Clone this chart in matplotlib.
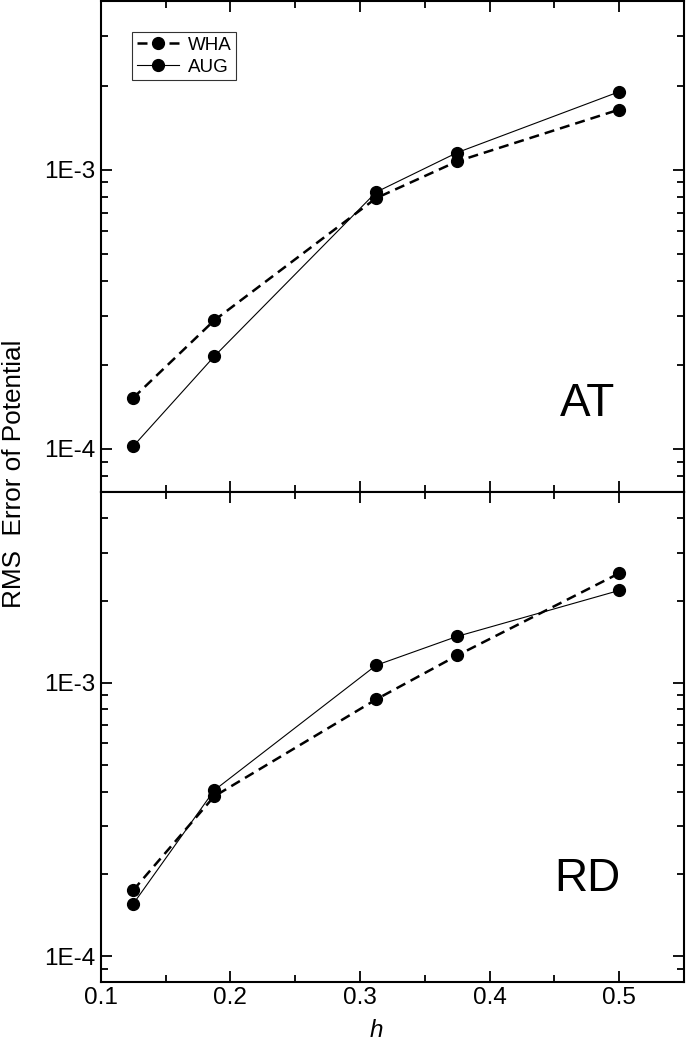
import numpy as np
import matplotlib
matplotlib.use("Agg")
import matplotlib.pyplot as plt
from matplotlib.ticker import LogLocator, FixedLocator, MultipleLocator, FuncFormatter, NullFormatter

plt.rcParams["font.family"] = ["Liberation Sans", "DejaVu Sans"]

# grid spacing h
h = [0.125, 0.1875, 0.3125, 0.375, 0.5]

# AT panel
at_wha = [1.52e-4, 2.88e-4, 7.9e-4, 1.07e-3, 1.64e-3]
at_aug = [1.02e-4, 2.14e-4, 8.3e-4, 1.15e-3, 1.90e-3]

# RD panel
rd_wha = [1.74e-4, 3.84e-4, 8.7e-4, 1.26e-3, 2.52e-3]
rd_aug = [1.55e-4, 4.04e-4, 1.16e-3, 1.48e-3, 2.18e-3]

panels = [("AT", at_wha, at_aug, (7e-5, 4e-3)),
          ("RD", rd_wha, rd_aug, (8e-5, 5e-3))]


def sci_label(v, pos):
    e = int(round(np.log10(v)))
    return f"1E{e}"


fig, axes = plt.subplots(2, 1, figsize=(6.88, 10.5), dpi=100, sharex=True)
fig.subplots_adjust(left=0.1464, right=0.9942, top=0.9986, bottom=0.0643, hspace=0)

for ax, (name, wha, aug, ylim) in zip(axes, panels):
    ax.plot(h, wha, color="black", lw=1.8, linestyle=(0, (4, 2.4)),
            marker="o", markersize=8.5, label="WHA")
    ax.plot(h, aug, color="black", lw=0.8, linestyle="-",
            marker="o", markersize=8.5, label="AUG")
    ax.set_yscale("log")
    ax.set_ylim(*ylim)
    ax.set_xlim(0.1, 0.55)
    ax.xaxis.set_major_locator(FixedLocator([0.1, 0.2, 0.3, 0.4, 0.5]))
    ax.xaxis.set_minor_locator(MultipleLocator(0.05))
    ax.yaxis.set_major_locator(LogLocator(base=10, numticks=10))
    ax.yaxis.set_minor_locator(LogLocator(base=10, subs=np.arange(2, 10), numticks=20))
    ax.yaxis.set_major_formatter(FuncFormatter(sci_label))
    ax.yaxis.set_minor_formatter(NullFormatter())
    ax.tick_params(which="both", direction="in", top=True, right=True, labelsize=17.5, width=1.3)
    ax.tick_params(which="major", length=8)
    ax.tick_params(which="minor", length=5)
    for s in ax.spines.values():
        s.set_linewidth(1.5)
    ax.text(0.835, 0.18 if name == "AT" else 0.21, name, transform=ax.transAxes,
            fontsize=33, ha="center", va="center")

axes[0].tick_params(labelbottom=False)
axes[1].xaxis.set_major_formatter(FuncFormatter(lambda v, p: f"{v:.1f}"))

leg = axes[0].legend(loc="upper left", bbox_to_anchor=(0.054, 0.938), fontsize=13.5,
                     numpoints=1, handlelength=2.25, frameon=True, fancybox=False,
                     borderpad=0.25, labelspacing=0.25, handletextpad=0.45, borderaxespad=0)
leg.get_frame().set_edgecolor("black")
leg.get_frame().set_linewidth(0.8)

axes[1].set_xlabel("h", fontsize=17.5, style="italic")
axes[1].xaxis.set_label_coords(0.472, -0.075)

fig.text(0.021, 0.549, "RMS  Error of Potential", rotation=90, fontsize=18.8,
         ha="center", va="center")

fig.savefig("out.png", dpi=100)
